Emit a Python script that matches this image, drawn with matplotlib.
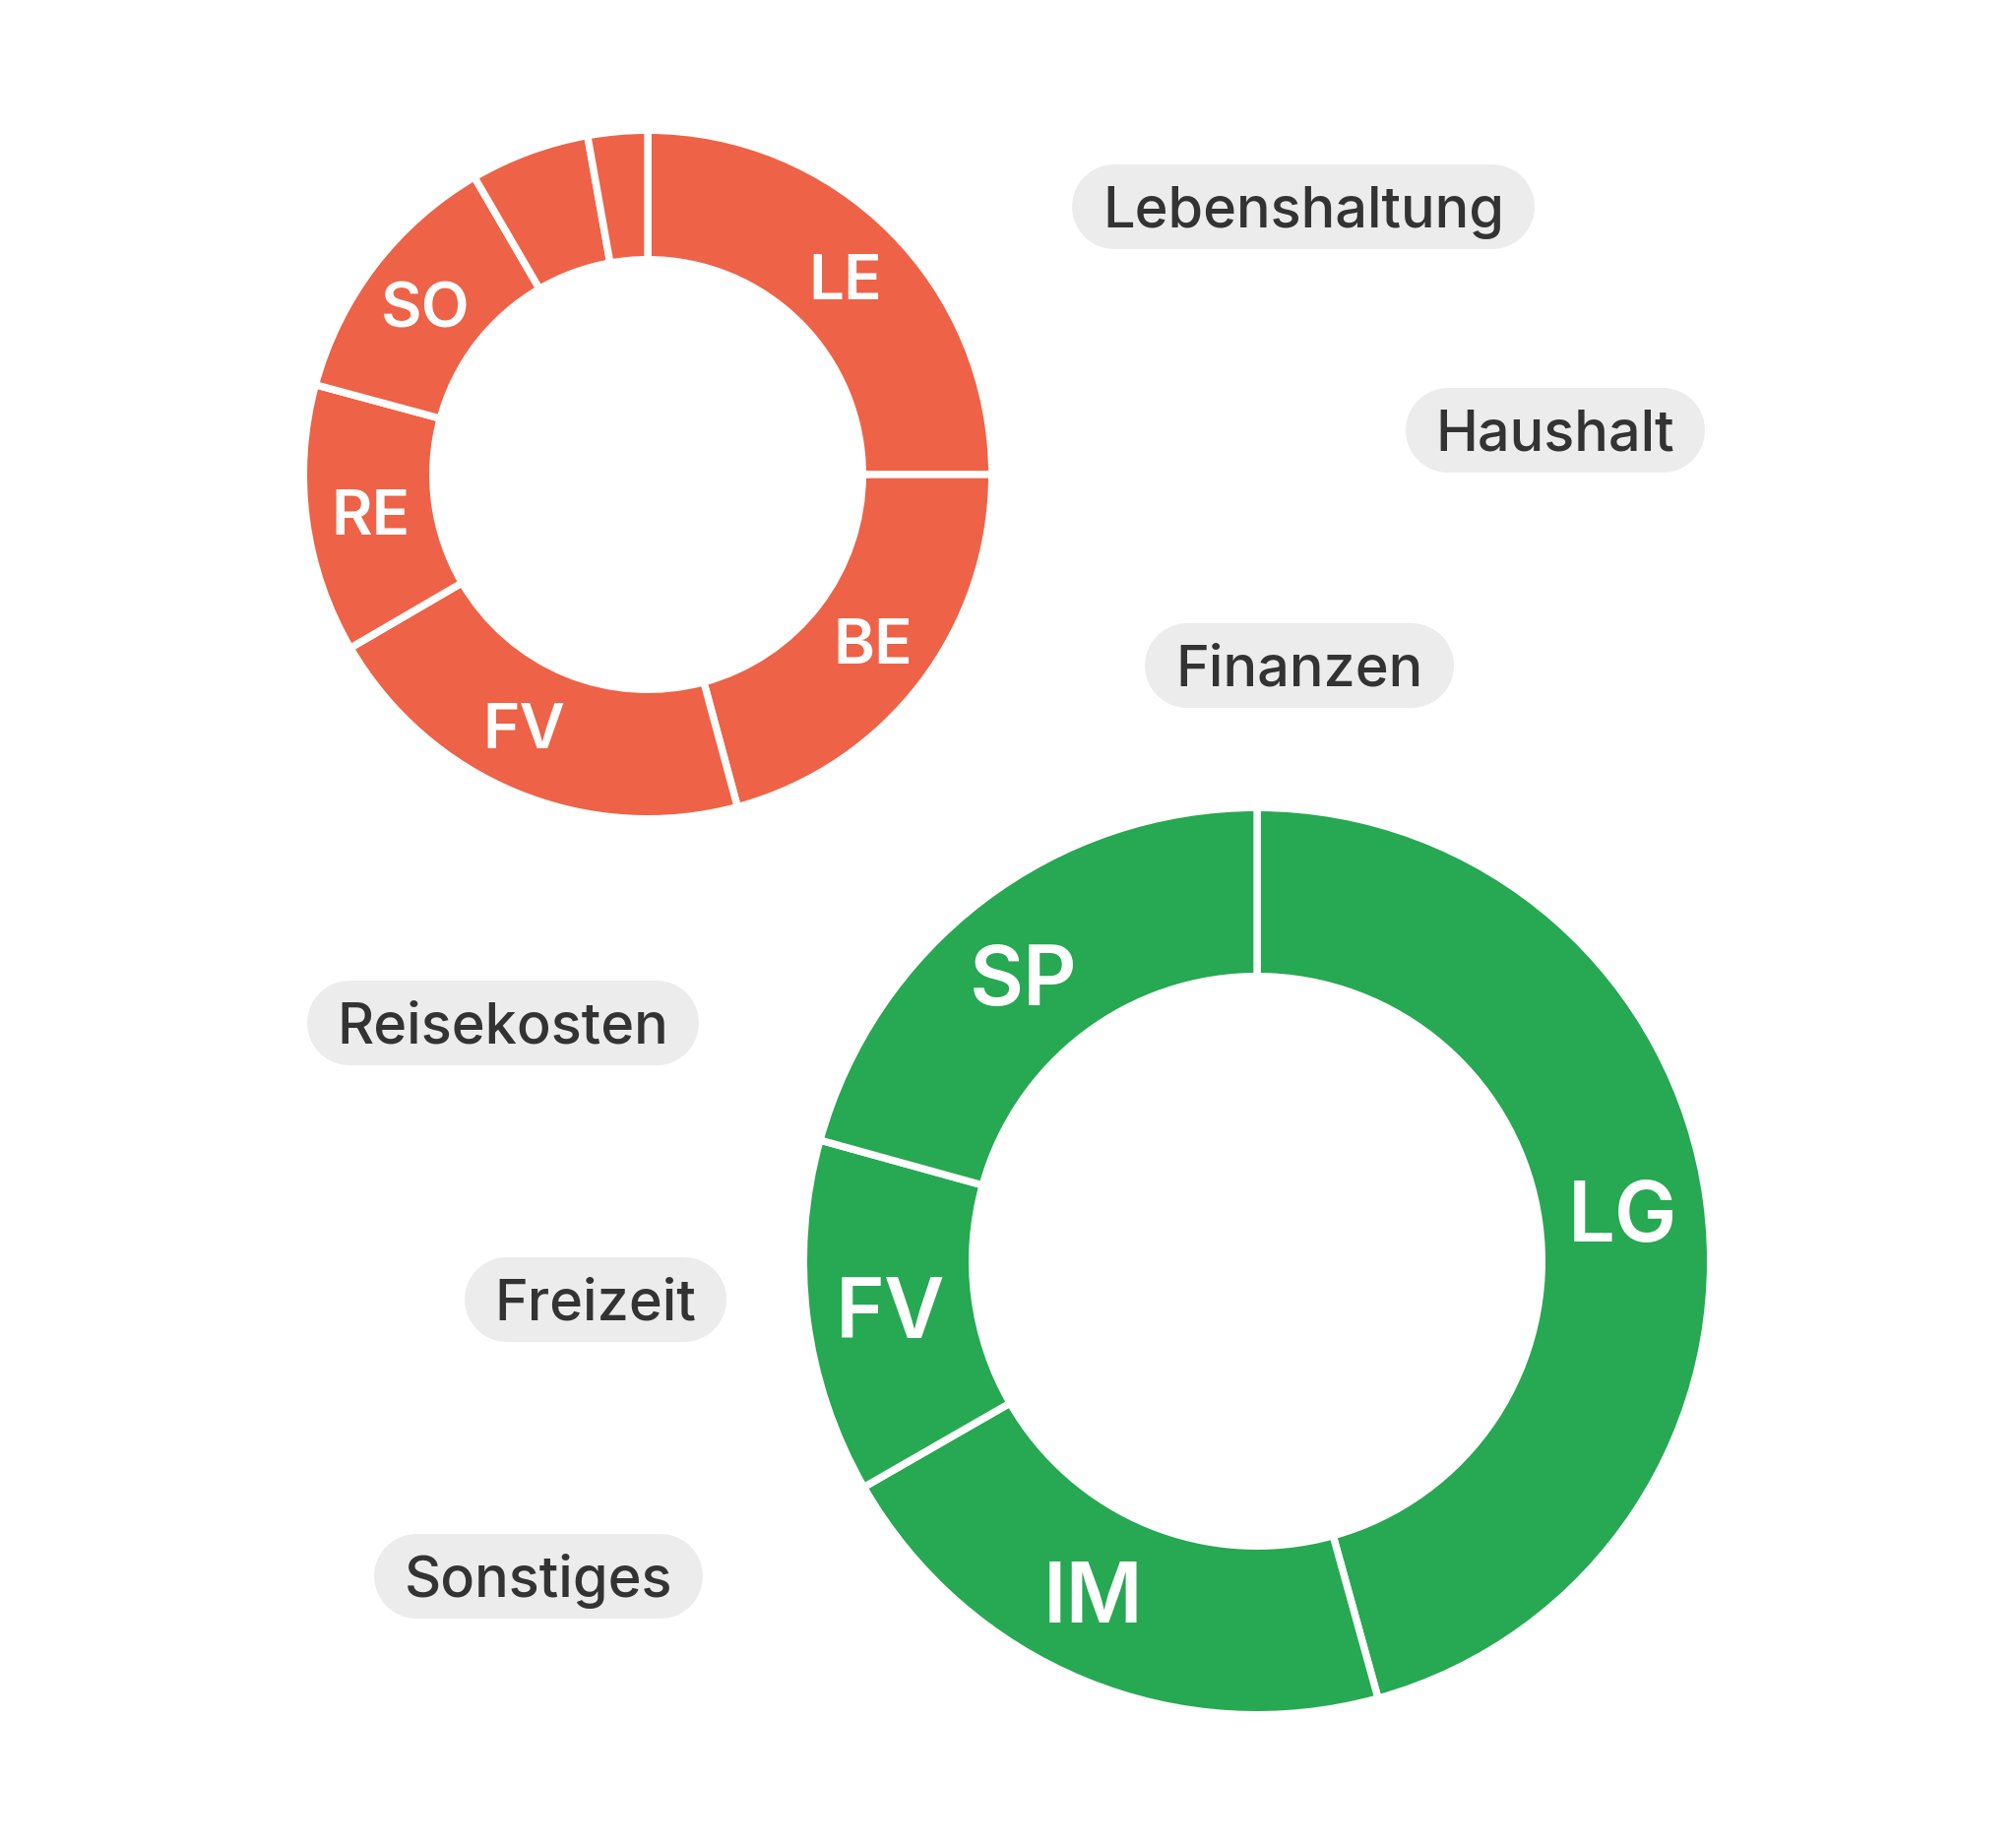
import matplotlib.pyplot as plt
import numpy as np

plt.rcParams['font.family'] = ['Inter', 'DejaVu Sans']

# roter Ring (oben links), im Uhrzeigersinn ab 12 Uhr
rot_labels = ['LE', 'BE', 'FV', 'RE', 'SO', '', '']
rot_werte = [25.0, 20.8, 20.8, 12.6, 12.4, 5.6, 2.8]

# gruener Ring (unten rechts)
gruen_labels = ['LG', 'IM', 'FV', 'SP']
gruen_werte = [45.7, 21.0, 12.6, 20.7]

# Kategorien als Pillen
kategorien = ['Lebenshaltung', 'Haushalt', 'Finanzen', 'Reisekosten', 'Freizeit', 'Sonstiges']
pillen_pos = [(1324, 210), (1580, 437), (1320, 676), (511, 1039), (605, 1320), (547, 1601)]

ROT = '#EE6247'
GRUEN = '#27A852'
PILLE = '#EBECEB'
TEXT = '#333333'

W, H = 2048, 1876
fig = plt.figure(figsize=(W / 100, H / 100), dpi=100)
ax = fig.add_axes([0, 0, 1, 1])

CAP = 0.727  # Versalhoehe Inter
LW = 5.3     # weisse Trennlinien (pt)
rand = LW * 100 / 72 / 2


def donut(werte, labels, farbe, cx, cy, r_aussen, r_innen, fs, versatz=None):
    versatz = versatz or {}
    r = r_aussen + rand
    breite = r_aussen - r_innen + 2 * rand
    wedges, _ = ax.pie(werte, center=(cx, H - cy), radius=r, startangle=90,
                       counterclock=False, colors=[farbe] * len(werte),
                       wedgeprops=dict(width=breite, edgecolor='white', linewidth=LW))
    cap_px = fs * 100 / 72 * CAP
    for i, (w, lab) in enumerate(zip(wedges, labels)):
        if not lab:
            continue
        ang = np.deg2rad((w.theta1 + w.theta2) / 2 + versatz.get(i, 0))
        rr = (r_aussen + r_innen) / 2
        ax.text(cx + rr * np.cos(ang), H - cy + rr * np.sin(ang) - cap_px / 2, lab,
                ha='center', va='baseline', color='white', fontsize=fs, fontweight='semibold')


donut(rot_werte, rot_labels, ROT, 658, 482, 346, 222, 46, versatz={1: 1, 2: -4})
donut(gruen_werte, gruen_labels, GRUEN, 1277, 1281, 457, 293, 61, versatz={1: -4, 3: 2})

ax.set_xlim(0, W)
ax.set_ylim(0, H)
ax.set_aspect('equal')
ax.axis('off')

# Pillen
fs = 41.5
cap_px = fs * 100 / 72 * CAP
texte = []
for name, (px, py) in zip(kategorien, pillen_pos):
    t = ax.text(px, H - py - cap_px / 2, name, ha='center', va='baseline',
                color=TEXT, fontsize=fs, fontweight='medium', zorder=3)
    texte.append(t)

fig.canvas.draw()
renderer = fig.canvas.get_renderer()
hoehe = 86
for t, (px, py) in zip(texte, pillen_pos):
    bb = t.get_window_extent(renderer)
    breite = bb.width + 2 * 31
    x0 = px - breite / 2 + hoehe / 2
    x1 = px + breite / 2 - hoehe / 2
    ax.plot([x0, x1], [H - py, H - py], color=PILLE, lw=hoehe * 72 / 100,
            solid_capstyle='round', zorder=2)

fig.savefig('out.png', dpi=100, facecolor='white')
